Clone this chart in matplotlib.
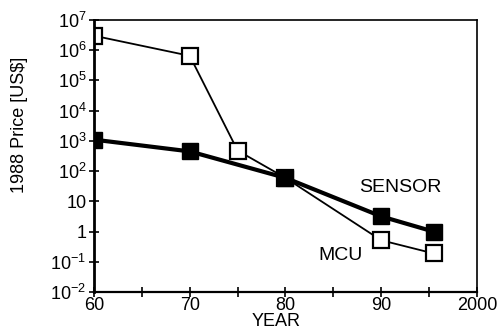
import matplotlib
matplotlib.use("Agg")
import matplotlib.pyplot as plt
from matplotlib.ticker import FixedLocator, FixedFormatter

plt.rcParams['font.family'] = ['Liberation Sans', 'DejaVu Sans']
plt.rcParams['mathtext.fontset'] = 'custom'
plt.rcParams['mathtext.rm'] = 'Liberation Sans'
plt.rcParams['mathtext.it'] = 'Liberation Sans'

# datos
mcu_year = [60, 70, 75, 80, 90, 95.5]
mcu_price = [3.0e6, 6.5e5, 480, 60, 0.52, 0.19]
sensor_year = [60, 70, 80, 90, 95.5]
sensor_price = [1100, 450, 60, 3.2, 1.0]

x_ticks = [60, 70, 80, 90, 100]
x_labels = ['60', '70', '80', '90', '2000']
x_minor = [65, 75, 85, 95]
y_ticks = [1e-2, 1e-1, 1, 10, 1e2, 1e3, 1e4, 1e5, 1e6, 1e7]
y_labels = [r'$10^{-2}$', r'$10^{-1}$', '1', '10', r'$10^{2}$', r'$10^{3}$',
            r'$10^{4}$', r'$10^{5}$', r'$10^{6}$', r'$10^{7}$']

fig = plt.figure(figsize=(5.03, 3.32), dpi=100)
ax = fig.add_axes([0.187, 0.12, 0.761, 0.82])

ax.plot(mcu_year, mcu_price, color='black', lw=1.3, marker='s', ms=11,
        mfc='white', mec='black', mew=1.6, zorder=2)
ax.plot(sensor_year, sensor_price, color='black', lw=3, marker='s', ms=11,
        mfc='black', mec='black', zorder=3)

ax.set_yscale('log')
ax.set_xlim(60, 100)
ax.set_ylim(1e-2, 1e7)

ax.yaxis.set_major_locator(FixedLocator(y_ticks))
ax.yaxis.set_major_formatter(FixedFormatter(y_labels))
ax.yaxis.set_minor_locator(FixedLocator([]))
ax.xaxis.set_major_locator(FixedLocator(x_ticks))
ax.xaxis.set_major_formatter(FixedFormatter(x_labels))
ax.xaxis.set_minor_locator(FixedLocator(x_minor))

ax.tick_params(axis='both', which='both', direction='inout', length=7,
               width=1.2, labelsize=13, pad=2)
ax.tick_params(axis='x', which='major', pad=0)

for s in ax.spines.values():
    s.set_linewidth(1.2)
ax.spines['left'].set_linewidth(2)
ax.spines['bottom'].set_linewidth(1.6)

ax.text(0.80, 0.385, 'SENSOR', transform=ax.transAxes, fontsize=14,
        ha='center', va='center')
ax.text(0.645, 0.135, 'MCU', transform=ax.transAxes, fontsize=14,
        ha='center', va='center')

ax.set_xlabel('YEAR', fontsize=13)
ax.xaxis.set_label_coords(0.475, -0.076)
ax.set_ylabel(r'1988 Price [US\$]', fontsize=13)
ax.yaxis.set_label_coords(-0.172, 0.614)

fig.savefig('out.png', dpi=100)
